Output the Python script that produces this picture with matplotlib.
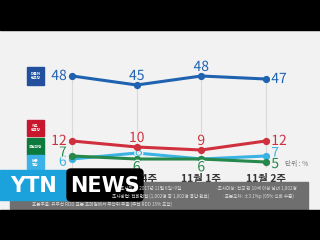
import matplotlib
matplotlib.use("Agg")
import matplotlib.pyplot as plt
from matplotlib.patches import Rectangle, FancyBboxPatch
import matplotlib.patheffects as pe

plt.rcParams['font.family'] = ['Noto Sans CJK KR', 'DejaVu Sans']

# data
weeks = ["10월 3주", "10월 4주", "11월 1주", "11월 2주"]
minju = [48, 45, 48, 47]
hanguk = [12, 10, 9, 12]
gukmin = [7, 6, 6, 5]
bareun = [6, 8, 6, 7]

BLUE = "#1f62b0"
RED = "#d0303e"
GREEN = "#26884a"
CYAN = "#3ab3e4"
W, H = 320, 240
PX = 3.0  # pixels per percent point


def px_axes(left, top, right, bottom):
    return fig.add_axes([left / W, 1 - bottom / H, (right - left) / W, (bottom - top) / H])


fig = plt.figure(figsize=(3.2, 2.4), dpi=100)
fig.patch.set_facecolor("#f2f2f2")

# background, pixel coordinates
bg = fig.add_axes([0, 0, 1, 1])
bg.set_xlim(0, W)
bg.set_ylim(H, 0)
bg.axis("off")
bg.add_patch(Rectangle((0, 0), W, 30, color="black"))

# party badges
badges = [(67, 18, "#22509c", "더불어\n민주당"),
          (120, 16, "#c8162c", "자유\n한국당"),
          (138, 17, "#0c7a3c", "국민의당"),
          (155, 16, "#3db2e6", "바른\n정당")]
for top, h, col, txt in badges:
    bg.add_patch(Rectangle((27, top), 17, h, color=col))
    bg.text(35.5, top + h / 2, txt, color="white", fontsize=2.6, ha="center",
            va="center", linespacing=1.0, fontweight="bold")

# top axes (blue) and bottom axes (others), same scale, broken between
x = list(range(len(weeks)))
ax_top = px_axes(40, 70, 298, 135)
ax_top.set_ylim(50 - (135 - 70) / PX, 50)
ax_bot = px_axes(40, 135, 298, 168)
ax_bot.set_ylim(3, 3 + (168 - 135) / PX)
for ax in (ax_top, ax_bot):
    ax.set_xlim(-0.5, 3.5)
    ax.patch.set_alpha(0)
    for s in ax.spines.values():
        s.set_visible(False)
    ax.set_yticks([])
    ax.tick_params(length=0)
ax_top.set_xticks([])
ax_top.vlines(x, ax_top.get_ylim()[0], minju, color="#d9d9d9", lw=0.8, zorder=0)
ax_bot.vlines(x, 3, ax_bot.get_ylim()[1], color="#d9d9d9", lw=0.8, zorder=0)

ax_bot.set_xticks(x)
ax_bot.set_xticklabels(weeks, fontsize=7.5, fontweight="bold", color="#333333")
ax_bot.tick_params(axis="x", pad=4.5)

offsets = {"left": (-4, 0, "right"), "lu": (-4, 2.5, "right"), "ld": (-4, -2, "right"),
           "above": (0, 6.5, "center"), "below": (0, -6, "center"),
           "right": (4, 0, "left"), "ru": (4, 2, "left"), "rd": (4, -1.5, "left"),
           "over": (1.5, 1, "center"), "none": None}


def draw(ax, vals, col, places, z):
    ax.plot(x, vals, color=col, lw=2.2, marker="o", ms=4.2, zorder=z, solid_capstyle="round")
    for xi, v, p in zip(x, vals, places):
        o = offsets[p]
        if o is None:
            continue
        t = ax.annotate(str(v), (xi, v), xytext=o[:2], textcoords="offset points",
                        ha=o[2], va="center", fontsize=10, color=col, zorder=z + 1)
        t.set_path_effects([pe.withStroke(linewidth=2, foreground="#f2f2f2")])


draw(ax_bot, bareun, CYAN, ["ld", "over", "none", "ru"], 3)
draw(ax_bot, gukmin, GREEN, ["lu", "below", "below", "rd"], 5)
draw(ax_bot, hanguk, RED, ["left", "above", "above", "right"], 7)
draw(ax_top, minju, BLUE, ["left", "above", "above", "right"], 7)

# overlay: unit, footnote, logo, bottom band
ov = fig.add_axes([0, 0, 1, 1])
ov.set_xlim(0, W)
ov.set_ylim(H, 0)
ov.axis("off")
ov.patch.set_alpha(0)
ov.text(297, 164, "단위 : %", fontsize=4.8, color="#777777", ha="center", va="center")
ov.add_patch(Rectangle((10, 182), 298, 27, color="#6f6f6f"))
ov.add_patch(Rectangle((0, 210), W, 30, color="black"))
note = "#dcdcdc"
ov.text(120, 188.5, "조사일시: 2017년 11월 6일~9일", fontsize=3.3, color=note, va="center")
ov.text(215, 188.5, "·조사대상: 전국 만 19세 이상 남녀 1,002명", fontsize=3.3, color=note, va="center")
ov.text(112, 196, "조사방법: 전화면접 (1,002명 중 1,002명 응답 완료)", fontsize=3.3, color=note, va="center")
ov.text(222, 196, "·표본오차: ±3.1%p (95% 신뢰 수준)", fontsize=3.3, color=note, va="center")
ov.text(32, 204.5, "표본추출: 유무선 RDD 표본 프레임에서 무작위 추출 (무선 RDD 15% 포함)",
        fontsize=3.3, color=note, va="center")
ov.add_patch(Rectangle((0, 170), 70, 30, color="#1ba2dc"))
ov.add_patch(FancyBboxPatch((67, 169), 76, 32, boxstyle="round,pad=0,rounding_size=4",
                            color="black"))
ov.text(34, 186, "YTN", fontsize=15, fontweight="bold", color="white",
        ha="center", va="center", family="DejaVu Sans")
ov.text(105, 185.5, "NEWS", fontsize=15, fontweight="bold", color="white",
        ha="center", va="center", family="DejaVu Sans")

fig.savefig("out.png", dpi=100, facecolor=fig.get_facecolor())
